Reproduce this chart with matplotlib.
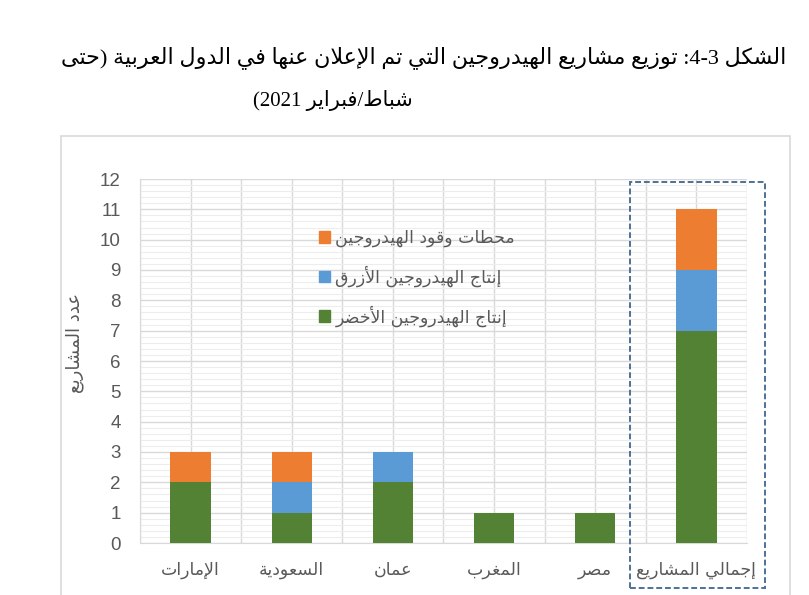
import re
import matplotlib
matplotlib.use("Agg")
import matplotlib.pyplot as plt
from matplotlib.patches import Rectangle, Patch
from matplotlib.ticker import MultipleLocator

# ---------------- data ----------------
categories = ["الإمارات", "السعودية", "عمان", "المغرب", "مصر", "إجمالي المشاريع"]
green_values = [2, 1, 2, 1, 1, 7]
blue_values = [0, 1, 1, 0, 0, 2]
orange_values = [1, 1, 0, 0, 0, 2]
series_names = ["إنتاج الهيدروجين الأخضر", "إنتاج الهيدروجين الأزرق", "محطات وقود الهيدروجين"]
y_ticks = [0, 1, 2, 3, 4, 5, 6, 7, 8, 9, 10, 11, 12]
title_line1 = "الشكل 4-3: توزيع مشاريع الهيدروجين التي تم الإعلان عنها في الدول العربية (حتى"
title_line2 = "شباط/فبراير 2021)"
y_label = "عدد المشاريع"

# ---------------- minimal Arabic shaping + visual ordering ----------------
FORMS = {}
for c, b in [("\u0621", 0xFE80)]:
    FORMS[c] = (b, 1)
for c, b in [("\u0622", 0xFE81), ("\u0623", 0xFE83), ("\u0624", 0xFE85), ("\u0625", 0xFE87),
             ("\u0627", 0xFE8D), ("\u0629", 0xFE93), ("\u062F", 0xFEA9), ("\u0630", 0xFEAB),
             ("\u0631", 0xFEAD), ("\u0632", 0xFEAF), ("\u0648", 0xFEED), ("\u0649", 0xFEEF)]:
    FORMS[c] = (b, 2)
for c, b in [("\u0626", 0xFE89), ("\u0628", 0xFE8F), ("\u062A", 0xFE95), ("\u062B", 0xFE99),
             ("\u062C", 0xFE9D), ("\u062D", 0xFEA1), ("\u062E", 0xFEA5), ("\u0633", 0xFEB1),
             ("\u0634", 0xFEB5), ("\u0635", 0xFEB9), ("\u0636", 0xFEBD), ("\u0637", 0xFEC1),
             ("\u0638", 0xFEC5), ("\u0639", 0xFEC9), ("\u063A", 0xFECD), ("\u0641", 0xFED1),
             ("\u0642", 0xFED5), ("\u0643", 0xFED9), ("\u0644", 0xFEDD), ("\u0645", 0xFEE1),
             ("\u0646", 0xFEE5), ("\u0647", 0xFEE9), ("\u064A", 0xFEF1)]:
    FORMS[c] = (b, 4)
LAMALEF = {"\u0622": 0xFEF5, "\u0623": 0xFEF7, "\u0625": 0xFEF9, "\u0627": 0xFEFB}


def shape(s):
    res = []
    n = len(s)
    i = 0
    while i < n:
        c = s[i]
        prev = s[i - 1] if i > 0 else ""
        pc = prev in FORMS and FORMS[prev][1] == 4
        if c == "\u0644" and i + 1 < n and s[i + 1] in LAMALEF:
            res.append(chr(LAMALEF[s[i + 1]] + (1 if pc else 0)))
            i += 2
            continue
        if c in FORMS:
            base, k = FORMS[c]
            nxt = s[i + 1] if i + 1 < n else ""
            nc = k == 4 and nxt in FORMS
            if k == 1:
                idx = 0
            elif k == 2:
                idx = 1 if pc else 0
            else:
                idx = 3 if (pc and nc) else 1 if pc else 2 if nc else 0
            res.append(chr(base + idx))
        else:
            res.append(c)
        i += 1
    return "".join(res)


MIRROR = {"(": ")", ")": "("}


def ar(s):
    s = shape(s)
    tokens = re.findall(r"[0-9][0-9\-./]*[0-9]|[0-9]|[^0-9]+", s)
    out = []
    for t in reversed(tokens):
        if t[0].isdigit():
            out.append(t)
        else:
            out.append("".join(MIRROR.get(ch, ch) for ch in reversed(t)))
    return "".join(out)


# ---------------- figure ----------------
W, H = 809, 595
fig = plt.figure(figsize=(W / 100, H / 100), dpi=100)
fig.patch.set_facecolor("white")

ax = fig.add_axes([140 / W, 1 - 543 / H, (747 - 140) / W, (543 - 179) / H])

green_c = "#548235"
blue_c = "#5B9BD5"
orange_c = "#ED7D31"

x = list(range(len(categories)))
bottom2 = [g + b for g, b in zip(green_values, blue_values)]
ax.bar(x, green_values, width=0.4, color=green_c, zorder=3)
ax.bar(x, blue_values, width=0.4, bottom=green_values, color=blue_c, zorder=3)
ax.bar(x, orange_values, width=0.4, bottom=bottom2, color=orange_c, zorder=3)

ax.set_xlim(-0.5, len(categories) - 0.5)
ax.set_ylim(0, 12)
ax.set_yticks(y_ticks)
ax.set_yticklabels([str(v) for v in y_ticks])
ax.yaxis.set_minor_locator(MultipleLocator(0.2))
ax.set_xticks(x)
ax.set_xticklabels([ar(c) for c in categories], family=["DejaVu Sans"], fontsize=12.5, color="#595959")
ax.xaxis.set_minor_locator(MultipleLocator(0.5))

for tl in ax.get_yticklabels():
    tl.set_family(["Liberation Sans", "DejaVu Sans"])
    tl.set_fontsize(13.5)
    tl.set_color("#595959")

ax.tick_params(axis="both", which="both", length=0)
ax.tick_params(axis="y", pad=14)
ax.tick_params(axis="x", pad=13)

ax.grid(which="major", axis="y", color="#D9D9D9", linewidth=1.0, zorder=0)
ax.grid(which="minor", axis="y", color="#EDEDED", linewidth=0.8, zorder=0)
ax.grid(which="both", axis="x", color="#D9D9D9", linewidth=1.0, zorder=0)
for sp in ["top", "right"]:
    ax.spines[sp].set_visible(False)
ax.spines["bottom"].set_color("#D9D9D9")
ax.spines["left"].set_color("#D9D9D9")

# legend
handles = [Patch(color=orange_c), Patch(color=blue_c), Patch(color=green_c)]
labels = [ar(series_names[2]), ar(series_names[1]), ar(series_names[0])]
leg = ax.legend(handles, labels, loc="upper left", bbox_to_anchor=(312 / W, 1 - 222 / H),
                bbox_transform=fig.transFigure, frameon=False,
                handlelength=0.65, handleheight=0.65, handletextpad=0.3, labelspacing=1.05,
                borderaxespad=0, prop={"family": ["DejaVu Sans"], "size": 12.5})
for t in leg.get_texts():
    t.set_color("#595959")

# y label
fig.text(75 / W, 1 - 343 / H, ar(y_label), rotation=90, ha="center", va="center",
         fontsize=13, color="#595959", family=["DejaVu Sans"])

# titles
fig.text(424 / W, 1 - 58 / H, ar(title_line1), ha="center", va="center", fontsize=16,
         color="black", family=["Liberation Serif", "DejaVu Sans"])
fig.text(333 / W, 1 - 100 / H, ar(title_line2), ha="center", va="center", fontsize=15,
         color="black", family=["Liberation Serif", "DejaVu Sans"])

# outer chart border
fig.add_artist(Rectangle((61 / W, -0.01), (790 - 61) / W, 1 - 136 / H + 0.01,
                         transform=fig.transFigure, fill=False, edgecolor="#D9D9D9", linewidth=1.2))
# dashed highlight box
fig.add_artist(Rectangle((630 / W, 1 - 588 / H), (765 - 630) / W, (588 - 182) / H,
                         transform=fig.transFigure, fill=False, edgecolor="#4E7196",
                         linewidth=1.4, linestyle=(0, (3, 1.5))))

fig.savefig("out.png", dpi=100)
